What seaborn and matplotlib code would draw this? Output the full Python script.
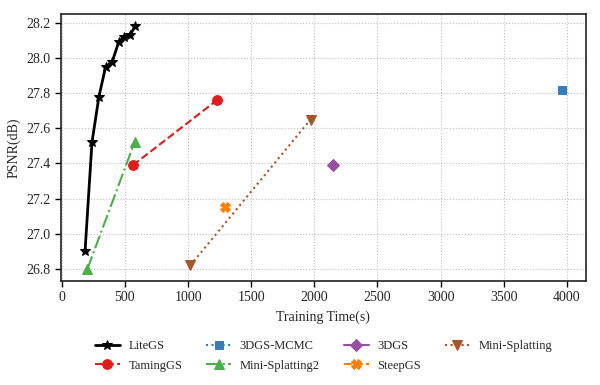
import pandas as pd
import seaborn as sns
import matplotlib.pyplot as plt

# Данные с графика (время обучения, PSNR)
methods = ['LiteGS', 'TamingGS', '3DGS-MCMC', 'Mini-Splatting2', '3DGS', 'SteepGS', 'Mini-Splatting']

litegs_time = [184, 239, 294, 347, 400, 450, 492, 539, 581]
litegs_psnr = [26.90, 27.52, 27.78, 27.95, 27.98, 28.09, 28.12, 28.13, 28.18]

taming_time = [563, 1228]
taming_psnr = [27.39, 27.76]

mcmc_time = [3960]
mcmc_psnr = [27.82]

mini2_time = [203, 576]
mini2_psnr = [26.80, 27.52]

gs3d_time = [2148]
gs3d_psnr = [27.39]

steep_time = [1291]
steep_psnr = [27.15]

mini_time = [1018, 1970]
mini_psnr = [26.82, 27.65]

times = [litegs_time, taming_time, mcmc_time, mini2_time, gs3d_time, steep_time, mini_time]
psnrs = [litegs_psnr, taming_psnr, mcmc_psnr, mini2_psnr, gs3d_psnr, steep_psnr, mini_psnr]

# Стили
colors = ['black', '#e41a1c', '#377eb8', '#4daf4a', '#984ea3', '#ff7f00', '#a65628']
markers = ['*', 'o', 's', '^', 'D', 'X', 'v']
linestyles = ['-', '--', ':', '-.', '-', '--', ':']
linewidths = [2, 1.5, 1.5, 1.5, 1.5, 1.5, 1.5]
markersizes = [7, 7, 6, 7, 6, 7, 7]

sns.set_style('whitegrid')
plt.rcParams['font.family'] = ['Liberation Serif', 'DejaVu Serif']

fig = plt.figure(figsize=(6, 3.85), dpi=100)
ax = fig.add_axes([0.102, 0.270, 0.874, 0.693])

for i, name in enumerate(methods):
    df = pd.DataFrame({'time': times[i], 'psnr': psnrs[i]})
    sns.lineplot(data=df, x='time', y='psnr', ax=ax, sort=False, label=name,
                 color=colors[i], marker=markers[i], linestyle=linestyles[i],
                 linewidth=linewidths[i], markersize=markersizes[i],
                 markeredgecolor=colors[i])

ax.margins(x=0.05, y=0.05)
ax.set_xticks(range(0, 4001, 500))
ax.set_yticks([26.8, 27.0, 27.2, 27.4, 27.6, 27.8, 28.0, 28.2])
ax.set_xlabel('Training Time(s)', fontsize=10)
ax.set_ylabel('PSNR(dB)', fontsize=10)
ax.tick_params(axis='both', labelsize=10, direction='out', length=4, width=1,
               bottom=True, left=True, color='black')
ax.grid(True, linestyle=':', color='#c0c0c0', linewidth=0.8)
for spine in ax.spines.values():
    spine.set_edgecolor('#222222')
    spine.set_linewidth(1.2)

ax.legend(loc='upper center', bbox_to_anchor=(0.5, -0.18), ncol=4, frameon=False,
          fontsize=9, handlelength=2.0, columnspacing=1.9, handletextpad=0.7,
          labelspacing=0.6)

plt.savefig('out.png', dpi=100)
